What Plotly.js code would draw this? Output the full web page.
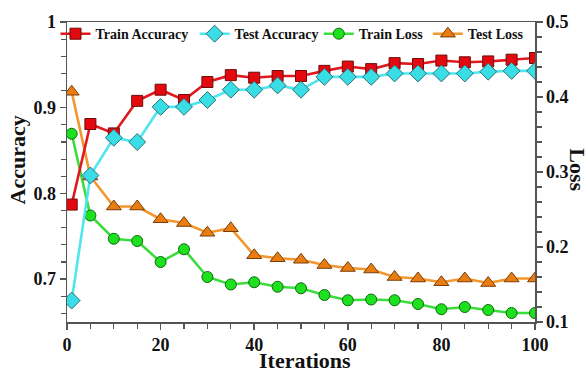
<!DOCTYPE html>
<html>
<head>
<meta charset="utf-8">
<script src="https://cdn.plot.ly/plotly-3.0.1.min.js"></script>
<style>html,body{margin:0;padding:0;background:#fff;}#chart{width:588px;height:369px;}</style>
</head>
<body>
<div id="chart"></div>
<script>
const iterations = [1, 5, 10, 15, 20, 25, 30, 35, 40, 45, 50, 55, 60, 65, 70, 75, 80, 85, 90, 95, 100];
const trainAccuracy = [0.787, 0.881, 0.870, 0.908, 0.921, 0.909, 0.930, 0.938, 0.935, 0.937, 0.937, 0.943, 0.948, 0.945, 0.952, 0.951, 0.955, 0.953, 0.954, 0.956, 0.958];
const testAccuracy = [0.675, 0.821, 0.865, 0.860, 0.901, 0.901, 0.909, 0.921, 0.921, 0.926, 0.921, 0.936, 0.936, 0.936, 0.940, 0.940, 0.940, 0.940, 0.942, 0.943, 0.943];
const trainLoss = [0.351, 0.242, 0.211, 0.208, 0.180, 0.197, 0.160, 0.150, 0.153, 0.147, 0.145, 0.136, 0.129, 0.130, 0.129, 0.124, 0.117, 0.120, 0.116, 0.112, 0.112];
const testLoss = [0.407, 0.294, 0.254, 0.254, 0.237, 0.232, 0.219, 0.225, 0.189, 0.185, 0.183, 0.176, 0.172, 0.170, 0.160, 0.158, 0.153, 0.158, 0.152, 0.158, 0.158];
const seriesNames = ["Train Accuracy", "Test Accuracy", "Train Loss", "Test Loss"];
const accTicks = [0.7, 0.8, 0.9, 1];
const accTickText = ["0.7", "0.8", "0.9", "1"];
const lossTicks = [0.1, 0.2, 0.3, 0.4, 0.5];
const lossTickText = ["0.1", "0.2", "0.3", "0.4", "0.5"];
const xTicks = [0, 20, 40, 60, 80, 100];

const FONT = "Liberation Serif, Times New Roman, serif";
const axisCol = "#555555";

const traces = [
  {
    x: iterations, y: trainLoss, name: seriesNames[2], yaxis: "y", legend: "legend3",
    mode: "lines+markers",
    line: {color: "#3ddc3d", width: 2.6},
    marker: {symbol: "circle", size: 11, color: "#1fe01f", line: {color: "#0b6b0b", width: 1}}
  },
  {
    x: iterations, y: testLoss, name: seriesNames[3], yaxis: "y", legend: "legend4",
    mode: "lines+markers",
    line: {color: "#f2962e", width: 2.6},
    marker: {symbol: "triangle-up", size: 13, color: "#ea7d12", line: {color: "#7a3d05", width: 1}}
  },
  {
    x: iterations, y: trainAccuracy, name: seriesNames[0], yaxis: "y2", legend: "legend",
    mode: "lines+markers",
    line: {color: "#e0191f", width: 2.6},
    marker: {symbol: "square", size: 11, color: "#e4090f", line: {color: "#6e0a0a", width: 1}}
  },
  {
    x: iterations, y: testAccuracy, name: seriesNames[1], yaxis: "y2", legend: "legend2",
    mode: "lines+markers",
    line: {color: "#4fe6ef", width: 2.6},
    marker: {symbol: "diamond", size: 13, color: "#38dde6", line: {color: "#2f6f74", width: 1}}
  }
];

const tickFont = {family: FONT, size: 18, color: "#111", weight: "bold"};
const titleFont = {family: FONT, size: 22, color: "#111", weight: "bold"};
const legFont = {family: FONT, size: 14, color: "#111", weight: "bold"};

function leg(xp) {
  return {
    orientation: "h", x: xp, y: 1.013, xanchor: "left", yanchor: "top",
    bgcolor: "rgba(0,0,0,0)", borderwidth: 0, font: legFont, itemwidth: 30
  };
}

const layout = {
  width: 588, height: 369,
  margin: {l: 67, r: 53, t: 22, b: 47, pad: 0},
  paper_bgcolor: "#ffffff", plot_bgcolor: "#ffffff",
  showlegend: true,
  legend: leg(-0.0246),
  legend2: leg(0.2727),
  legend3: leg(0.5380),
  legend4: leg(0.7711),
  xaxis: {
    range: [0, 100], tickvals: xTicks, ticks: "outside", ticklen: 6, tickwidth: 1.5, tickcolor: axisCol,
    showline: true, linecolor: axisCol, linewidth: 1.5, mirror: true, showgrid: false, zeroline: false,
    tickfont: tickFont,
    minor: {dtick: 5, ticks: "outside", ticklen: 5, tickwidth: 1.2, tickcolor: axisCol, showgrid: false}
  },
  yaxis: {
    side: "right", range: [0.1, 0.5], tickvals: lossTicks, ticktext: lossTickText,
    ticks: "outside", ticklen: 6, tickwidth: 1.5, tickcolor: axisCol,
    showline: true, linecolor: axisCol, linewidth: 1.5, showgrid: false, zeroline: false,
    tickfont: tickFont,
    minor: {dtick: 0.02, ticks: "outside", ticklen: 5, tickwidth: 1.2, tickcolor: axisCol, showgrid: false}
  },
  yaxis2: {
    side: "left", overlaying: "y", range: [0.65, 1], tickvals: accTicks, ticktext: accTickText,
    ticks: "outside", ticklen: 6, tickwidth: 1.5, tickcolor: axisCol,
    showline: true, linecolor: axisCol, linewidth: 1.5, showgrid: false, zeroline: false,
    tickfont: tickFont,
    minor: {dtick: 0.02, ticks: "outside", ticklen: 5, tickwidth: 1.2, tickcolor: axisCol, showgrid: false}
  },
  annotations: [
    {text: "Accuracy", xref: "paper", yref: "paper", x: -0.106, y: 0.54, xanchor: "center", yanchor: "middle",
     textangle: -90, showarrow: false, font: titleFont},
    {text: "Loss", xref: "paper", yref: "paper", x: 1.091, y: 0.507, xanchor: "center", yanchor: "middle",
     textangle: 90, showarrow: false, font: titleFont},
    {text: "Iterations", xref: "paper", yref: "paper", x: 0.508, y: -0.13, xanchor: "center", yanchor: "middle",
     showarrow: false, font: titleFont}
  ]
};

Plotly.newPlot("chart", traces, layout, {displayModeBar: false, staticPlot: true});
</script>
</body>
</html>
